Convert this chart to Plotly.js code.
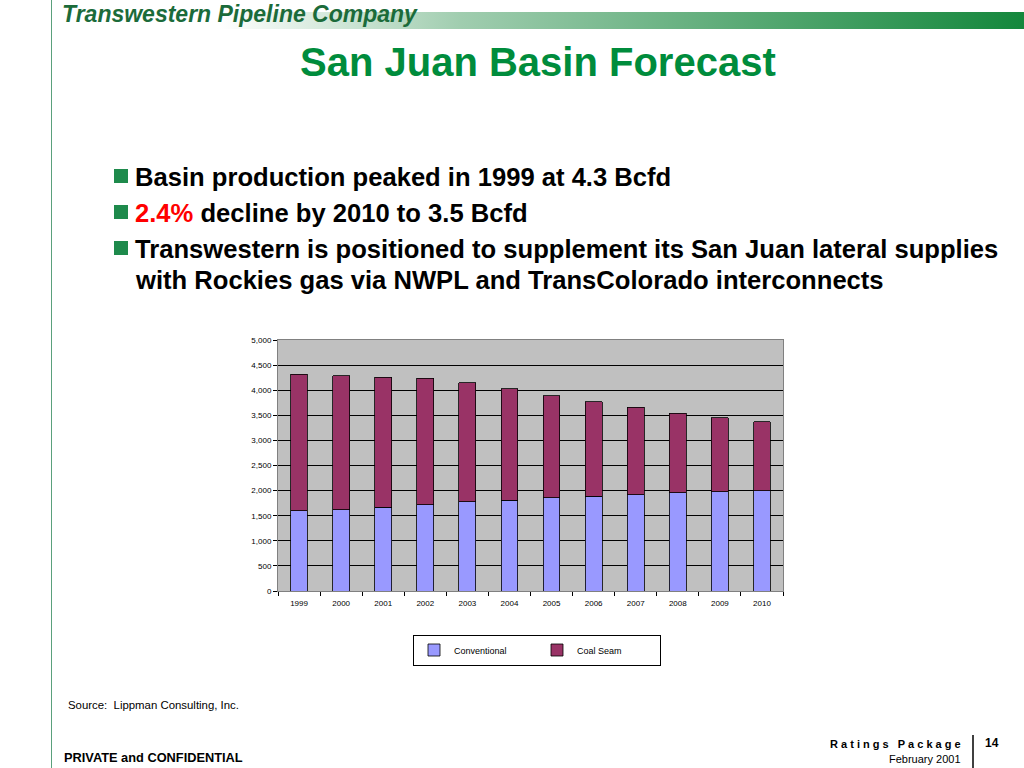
<!DOCTYPE html>
<html>
<head>
<meta charset="utf-8">
<script src="https://cdn.plot.ly/plotly-3.0.1.min.js"></script>
<style>
  html,body{margin:0;padding:0;background:#fff;}
  #wrap{position:relative;width:1024px;height:768px;overflow:hidden;}
  #grad{position:absolute;left:220px;top:12px;width:804px;height:17px;
        background:linear-gradient(to right,rgba(255,255,255,1) 0%,rgba(160,205,175,1) 30%,rgba(20,135,60,1) 100%);}
  #vline{position:absolute;left:51px;top:0;width:1px;height:768px;background:#5aa07c;}
  #chart{position:absolute;left:0;top:0;width:1024px;height:768px;}
</style>
</head>
<body>
<div id="wrap">
  <div id="grad"></div>
  <div id="vline"></div>
  <div id="chart"></div>
</div>
<script>
const years = ["1999","2000","2001","2002","2003","2004","2005","2006","2007","2008","2009","2010"];
const conventional = [1603,1616,1669,1715,1775,1808,1854,1887,1921,1954,1974,1993];
const coalSeam = [2715,2675,2589,2523,2377,2218,2033,1881,1741,1582,1476,1378];
const yTicks = [0,500,1000,1500,2000,2500,3000,3500,4000,4500,5000];

const L = 278, R = 783, T = 340, B = 591;
const px = x => (x - L) / (R - L);
const py = y => (B - y) / (B - T);
const FONT = "Liberation Sans, Arial, sans-serif";

const traces = [
  {type:"bar", name:"Conventional", x:years, y:conventional,
   marker:{color:"#9999FF", line:{color:"#000000", width:0.8}}},
  {type:"bar", name:"Coal Seam", x:years, y:coalSeam,
   marker:{color:"#993366", line:{color:"#000000", width:0.8}}}
];

function ann(text, x, y, size, opts) {
  return Object.assign({
    text:text, xref:"paper", yref:"paper", x:px(x), y:py(y),
    xanchor:"left", yanchor:"middle", showarrow:false,
    font:{family:FONT, size:size, color:"#000"}
  }, opts || {});
}

const green = "#008C3C";
const annotations = [
  ann("<b><i>Transwestern Pipeline Company</i></b>", 60, 14, 23, {font:{family:FONT, size:23, color:"#1B6B3A"}}),
  ann("<b>San Juan Basin Forecast</b>", 538, 62, 40, {xanchor:"center", font:{family:FONT, size:40, color:green}}),
  ann("<b>Basin production peaked in 1999 at 4.3 Bcfd</b>", 133, 177, 25.6),
  ann("<b><span style='color:#FF0000'>2.4%</span> decline by 2010 to 3.5 Bcfd</b>", 133, 213, 25.6),
  ann("<b>Transwestern is positioned to supplement its San Juan lateral supplies</b>", 133, 249, 25.6),
  ann("<b>with Rockies gas via NWPL and TransColorado interconnects</b>", 133, 280, 25.6),
  ann("Source:  Lippman Consulting, Inc.", 66, 705, 11.4),
  ann("<b>PRIVATE and CONFIDENTIAL</b>", 62, 757, 12.8),
  ann("<b>R a t i n g s   P a c k a g e</b>", 963, 744, 11, {xanchor:"right"}),
  ann("February 2001", 963, 759, 11, {xanchor:"right"}),
  ann("<b>14</b>", 983, 743, 12)
];

function sq(x, y) {
  return {type:"rect", xref:"paper", yref:"paper", x0:px(x), x1:px(x+14), y0:py(y+7), y1:py(y-7),
          fillcolor:"#1E8A4C", line:{width:0}, layer:"above"};
}
const shapes = [
  sq(114,176), sq(114,212), sq(114,248),
  {type:"line", xref:"paper", yref:"paper", x0:px(973), x1:px(973), y0:py(735), y1:py(768),
   line:{color:"#000", width:1.5}}
];

const layout = {
  width:1024, height:768,
  margin:{l:L, r:1024-R, t:T, b:768-B, pad:0},
  paper_bgcolor:"rgba(0,0,0,0)",
  plot_bgcolor:"#C0C0C0",
  barmode:"stack",
  bargap:0.6,
  showlegend:true,
  legend:{orientation:"h", x:px(537), xanchor:"center", y:py(650), yanchor:"middle",
          bordercolor:"#000", borderwidth:1, bgcolor:"#fff",
          entrywidth:78, entrywidthmode:"pixels", itemwidth:30, traceorder:"normal",
          font:{family:FONT, size:9, color:"#000"}},
  xaxis:{type:"category", tickson:"boundaries", ticks:"outside", ticklen:4, tickcolor:"#000",
         showline:true, linecolor:"#808080", mirror:true, showgrid:false,
         ticklabelstandoff:4,
         tickfont:{family:FONT, size:8, color:"#000"}},
  yaxis:{range:[0,5000], tickvals:yTicks, ticktext:yTicks.map(v=>v.toLocaleString("en-US")),
         ticks:"outside", ticklen:4, tickcolor:"#000",
         showline:true, linecolor:"#808080", mirror:true,
         showgrid:true, gridcolor:"#000", gridwidth:1, zeroline:false,
         tickfont:{family:FONT, size:8, color:"#000"}},
  annotations:annotations,
  shapes:shapes
};

Plotly.newPlot("chart", traces, layout, {staticPlot:true, displayModeBar:false});
</script>
</body>
</html>
